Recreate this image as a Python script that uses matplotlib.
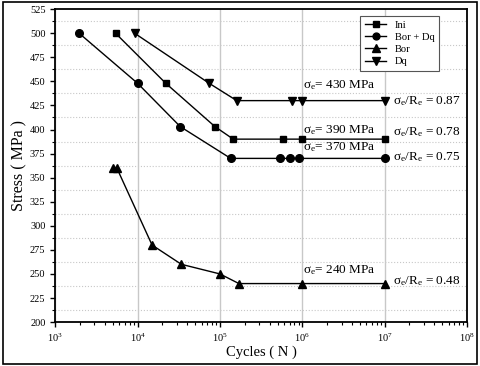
import numpy as np
import matplotlib
matplotlib.use('Agg')
from matplotlib import pyplot as plt
from matplotlib.patches import Rectangle
from matplotlib.ticker import LogLocator, LogFormatterSciNotation, MultipleLocator

plt.rcParams['font.family'] = 'Liberation Serif'
plt.rcParams['mathtext.fontset'] = 'custom'
plt.rcParams['mathtext.rm'] = 'Liberation Serif'
plt.rcParams['mathtext.it'] = 'Liberation Serif:italic'

# data
ini_n = [5.4e3, 2.2e4, 8.7e4, 1.45e5, 5.9e5, 1e6, 1e7]
ini_s = [500, 448, 403, 390, 390, 390, 390]

bordq_n = [1.95e3, 1e4, 3.3e4, 1.35e5, 5.3e5, 7e5, 9e5, 1e7]
bordq_s = [500, 448, 403, 370, 370, 370, 370, 370]

bor_n = [5e3, 5.6e3, 1.5e4, 3.4e4, 1e5, 1.7e5, 1e6, 1e7]
bor_s = [360, 360, 280, 260, 250, 240, 240, 240]

dq_n = [9.2e3, 7.4e4, 1.6e5, 7.6e5, 1e6, 1e7]
dq_s = [500, 448, 430, 430, 430, 430]

limits = [430, 390, 370, 240]
ratios = ['0.87', '0.78', '0.75', '0.48']
lim_y = [446, 399, 382, 254]
ratio_y = [430, 397, 371, 243]

fig = plt.figure(figsize=(4.8, 3.66), dpi=100)
ax = fig.add_axes([0.115, 0.12, 0.858, 0.855])

ax.plot(ini_n, ini_s, '-s', color='black', ms=5, lw=1, label='Ini')
ax.plot(bordq_n, bordq_s, '-o', color='black', ms=5.5, lw=1, label='Bor + Dq')
ax.plot(bor_n, bor_s, '-^', color='black', ms=6, lw=1, label='Bor')
ax.plot(dq_n, dq_s, '-v', color='black', ms=6, lw=1, label='Dq')

for s, r, ly, ry in zip(limits, ratios, lim_y, ratio_y):
    ax.text(1.02e6, ly, r'$\mathrm{\sigma_e}$= %d MPa' % s, fontsize=9.5, va='center')
    ax.text(1.25e7, ry, r'$\mathrm{\sigma_e/R_e}$ = ' + r, fontsize=9.5, va='center')

ax.set_xscale('log')
ax.set_xlim(1e3, 1e8)
ax.set_ylim(200, 525)
ax.yaxis.set_major_locator(MultipleLocator(25))
ax.yaxis.set_minor_locator(MultipleLocator(12.5))
ax.xaxis.set_major_locator(LogLocator(base=10))
ax.xaxis.set_minor_locator(LogLocator(base=10, subs=np.arange(2, 10)))
ax.xaxis.set_major_formatter(LogFormatterSciNotation())

ax.grid(True, which='major', axis='x', color='#c8c8c8', lw=1)
ax.grid(True, which='minor', axis='y', color='#c8c8c8', lw=0.8, ls=':')
ax.set_axisbelow(True)

ax.tick_params(which='both', direction='out', top=False, right=False, labelsize=7.5)
ax.tick_params(which='major', length=3.5, width=1)
ax.tick_params(which='minor', length=2, width=0.8)
for sp in ax.spines.values():
    sp.set_linewidth(1.3)

ax.set_xlabel('Cycles ( N )', fontsize=10.5, labelpad=1)
ax.set_ylabel('Stress ( MPa )', fontsize=11.5, labelpad=2)

leg = ax.legend(loc='upper right', bbox_to_anchor=(0.945, 0.995), fontsize=7.6,
                fancybox=False, edgecolor='#555555', framealpha=1,
                handlelength=2.0, borderpad=0.45, labelspacing=0.25, markerscale=0.9)
leg.get_frame().set_linewidth(0.8)

fig.patches.append(Rectangle((0.006, 0.006), 0.988, 0.988, transform=fig.transFigure,
                             fill=False, edgecolor='black', lw=1.2))

fig.savefig('out.png', dpi=100)
